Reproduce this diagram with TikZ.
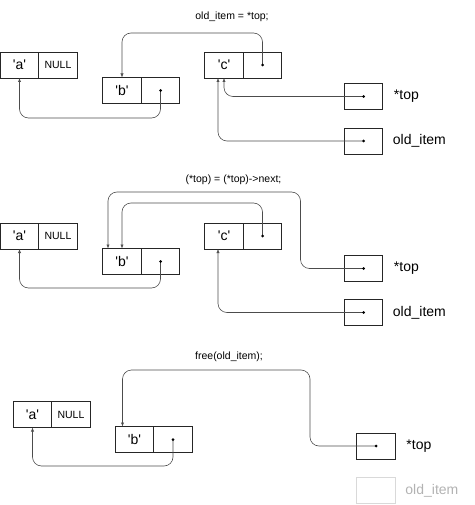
\documentclass[tikz,border=0pt]{standalone}
\usepackage{fontspec}
\setmainfont{Liberation Sans}
\usepackage{tikz}
\usetikzlibrary{positioning,arrows.meta}

\newcommand{\chr}[1]{\textquotesingle#1\textquotesingle}

\tikzset{
  cell/.style={draw=black!85,line width=0.6pt,minimum width=38.5pt,minimum height=26pt,
    inner sep=0pt,outer sep=0pt,font=\fontsize{14}{16}\selectfont},
  small/.style={font=\fontsize{10.5}{12}\selectfont},
  lbl/.style={inner sep=0pt,anchor=west,font=\fontsize{14}{16}\selectfont},
  ptr/.style={draw=black!70,line width=0.6pt,rounded corners=9pt,-{Latex[length=4pt,width=3.2pt]}}
}

\begin{document}
\begin{tikzpicture}[x=1pt,y=-1pt]
    \useasboundingbox (0,0) rectangle (474,505);

    % step 1
    \node[small] (t1) at (232,17) {old\_item = *top;};
    \node[cell] (a1) at (19.5,65) {\chr{a}};
    \node[cell,small,right=0pt of a1,minimum width=38.5pt,minimum height=26pt] (a1n) {NULL};
    \node[cell] (b1) at (122,90.5) {\chr{b}};
    \node[cell,right=0pt of b1] (b1p) {};
    \node[cell] (c1) at (224,65) {\chr{c}};
    \node[cell,right=0pt of c1] (c1p) {};
    \node[cell] (top1) at (363.5,96.5) {};
    \node[cell] (item1) at (363.5,141) {};
    \node[lbl,right=11pt of top1] (top1l) {*top};
    \node[lbl,right=10pt of item1] (item1l) {old\_item};
    \draw[ptr] (c1p.center) -- (c1p.center |- 0,33) -| (b1.north);
    \draw[ptr] (b1p.center) -- (b1p.center |- 0,118) -| (a1.south);
    \draw[ptr] (top1.center) -| (c1.south);
    \draw[ptr] (item1.center) -| ([xshift=-6pt]c1.south);

    % step 2
    \node[small] (t2) at (233.5,180) {(*top) = (*top)->next;};
    \node[cell] (a2) at (19.5,236) {\chr{a}};
    \node[cell,small,right=0pt of a2,minimum width=38.5pt,minimum height=26pt] (a2n) {NULL};
    \node[cell] (b2) at (122,261.5) {\chr{b}};
    \node[cell,right=0pt of b2] (b2p) {};
    \node[cell] (c2) at (224,236) {\chr{c}};
    \node[cell,right=0pt of c2] (c2p) {};
    \node[cell] (top2) at (363.5,268.5) {};
    \node[cell] (item2) at (363.5,312.5) {};
    \node[lbl,right=11pt of top2] (top2l) {*top};
    \node[lbl,right=10pt of item2] (item2l) {old\_item};
    \draw[ptr] (c2p.center) -- (c2p.center |- 0,203) -| (b2.north);
    \draw[ptr] (top2.center) -- ++(-63,0) |- ([xshift=-14pt]b2.north |- 0,192) -- ([xshift=-14pt]b2.north);
    \draw[ptr] (b2p.center) -- (b2p.center |- 0,288) -| (a2.south);
    \draw[ptr] (item2.center) -| ([xshift=-6pt]c2.south);

    % step 3
    \node[small] (t3) at (229,357) {free(old\_item);};
    \node[cell] (a3) at (32.5,414.5) {\chr{a}};
    \node[cell,small,right=0pt of a3,minimum width=38.5pt,minimum height=26pt] (a3n) {NULL};
    \node[cell] (b3) at (134.5,439.5) {\chr{b}};
    \node[cell,right=0pt of b3] (b3p) {};
    \node[cell] (top3) at (376,446) {};
    \node[cell,draw=gray!30] (item3) at (376,490.5) {};
    \node[lbl,right=11pt of top3] (top3l) {*top};
    \node[lbl,right=10pt of item3,text=gray!60] (item3l) {old\_item};
    \draw[ptr] (top3.center) -- ++(-66,0) |- ([xshift=-12pt]b3.north |- 0,370) -- ([xshift=-12pt]b3.north);
    \draw[ptr] (b3p.center) -- (b3p.center |- 0,466) -| (a3.south);

    % pointer dots
    \foreach \p in {b1p,c1p,top1,item1,b2p,c2p,top2,item2,b3p,top3}
        \fill[black] (\p) circle (1.5pt);
\end{tikzpicture}
\end{document}
